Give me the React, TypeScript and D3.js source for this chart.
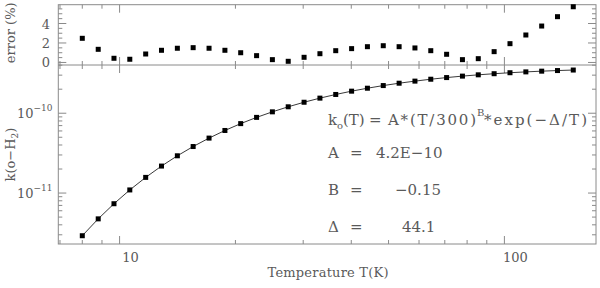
import * as d3 from "d3";

// temperatures (K) of the computed points
const temps = [
  8, 8.8, 9.67, 10.63, 11.69, 12.85, 14.13, 15.53, 17.08, 18.78, 20.64, 22.7,
  24.95, 27.43, 30.16, 33.16, 36.45, 40.08, 44.06, 48.44, 53.26, 58.55, 64.37,
  70.77, 77.8, 85.53, 94.04, 103.4, 113.7, 125.0, 137.4, 151.0,
];

// rate coefficient k(o-H2) in cm^3 s^-1
const rates = [
  2.92e-12, 4.75e-12, 7.35e-12, 1.094e-11, 1.571e-11, 2.178e-11, 2.93e-11,
  3.827e-11, 4.88e-11, 6.08e-11, 7.41e-11, 8.87e-11, 1.041e-10, 1.204e-10,
  1.373e-10, 1.546e-10, 1.718e-10, 1.89e-10, 2.058e-10, 2.221e-10, 2.377e-10,
  2.525e-10, 2.667e-10, 2.797e-10, 2.917e-10, 3.028e-10, 3.127e-10, 3.217e-10,
  3.296e-10, 3.365e-10, 3.425e-10, 3.476e-10,
];

// relative error of the fit (%)
const errors = [
  2.48, 1.35, 0.43, 0.33, 0.87, 1.25, 1.46, 1.52, 1.46, 1.25, 1.0, 0.7, 0.29,
  0.12, 0.53, 0.9, 1.21, 1.42, 1.62, 1.72, 1.62, 1.49, 1.21, 0.84, 0.29, 0.39,
  1.11, 1.93, 2.82, 3.74, 4.7, 5.72,
];

const xMajor = [10, 100];
const xMinor = [7, 8, 9, 20, 30, 40, 50, 60, 70, 80, 90];
const errMajor = [0, 2, 4];
const errMinor = [0.5, 1, 1.5, 2.5, 3, 3.5, 4.5, 5, 5.5];
const kMajor = [1e-11, 1e-10];
const kMinor = [
  3e-12, 4e-12, 5e-12, 6e-12, 7e-12, 8e-12, 9e-12, 2e-11, 3e-11, 4e-11, 5e-11,
  6e-11, 7e-11, 8e-11, 9e-11, 2e-10, 3e-10, 4e-10,
];

const W = 600;
const H = 288;
const L = 58.3;
const R = 596;
const TOP = 4.7;
const MID = 65;
const BOT = 244;
const AX = "#8a8a8a";
const TXT = "#5a5a5a";
const FONT = "DejaVu Serif";

export default function App() {
  const x = d3.scaleLog().domain([6.93, 173]).range([L, R]);
  const yErr = d3.scaleLinear().domain([-0.26, 5.93]).range([MID, TOP]);
  const yK = d3.scaleLog().domain([2.3e-12, 4.02e-10]).range([BOT, MID]);

  const line = d3
    .line<number>()
    .x((_, i) => x(temps[i]))
    .y((d) => yK(d));

  const sq = 5;

  const xTicks = (top: number, bottom: number) => (
    <g stroke={AX} strokeWidth={1}>
      {xMajor.map((v) => (
        <g key={"M" + v}>
          <line x1={x(v)} x2={x(v)} y1={top} y2={top + 8} />
          <line x1={x(v)} x2={x(v)} y1={bottom} y2={bottom - 8} />
        </g>
      ))}
      {xMinor.map((v) => (
        <g key={"m" + v}>
          <line x1={x(v)} x2={x(v)} y1={top} y2={top + 4} />
          <line x1={x(v)} x2={x(v)} y1={bottom} y2={bottom - 4} />
        </g>
      ))}
    </g>
  );

  const yTicks = (major: number[], minor: number[], s: (v: number) => number) => (
    <g stroke={AX} strokeWidth={1}>
      {major.map((v) => (
        <g key={"M" + v}>
          <line x1={L} x2={L + 8} y1={s(v)} y2={s(v)} />
          <line x1={R} x2={R - 8} y1={s(v)} y2={s(v)} />
        </g>
      ))}
      {minor.map((v) => (
        <g key={"m" + v}>
          <line x1={L} x2={L + 4} y1={s(v)} y2={s(v)} />
          <line x1={R} x2={R - 4} y1={s(v)} y2={s(v)} />
        </g>
      ))}
    </g>
  );

  return (
    <div style={{ position: "absolute", left: 0, top: 0 }}>
      <svg width={W} height={H} style={{ display: "block", background: "#fff" }}>
        {/* frames */}
        <rect x={L} y={TOP} width={R - L} height={BOT - TOP} fill="none" stroke={AX} />
        <line x1={L} x2={R} y1={MID} y2={MID} stroke={AX} />

        {xTicks(TOP, MID)}
        {xTicks(MID, BOT)}
        {yTicks(errMajor, errMinor, yErr)}
        {yTicks(kMajor, kMinor, yK)}

        {/* error panel */}
        {errors.map((e, i) => (
          <rect
            key={"e" + i}
            x={x(temps[i]) - sq / 2}
            y={yErr(e) - sq / 2}
            width={sq}
            height={sq}
            fill="#000"
          />
        ))}

        {/* rate panel */}
        <path d={line(rates) || ""} fill="none" stroke="#222" strokeWidth={0.9} />
        {rates.map((k, i) => (
          <rect
            key={"k" + i}
            x={x(temps[i]) - sq / 2}
            y={yK(k) - sq / 2}
            width={sq}
            height={sq}
            fill="#000"
          />
        ))}

        {/* tick labels */}
        <g fontFamily={FONT} fontSize={13} fill={TXT}>
          {errMajor.map((v) => (
            <text key={v} x={50} y={yErr(v) + 5} textAnchor="end">
              {v}
            </text>
          ))}
          {xMajor.map((v) => (
            <text key={v} x={x(v) + 11} y={262} textAnchor="middle">
              {v}
            </text>
          ))}
          {kMajor.map((v) => (
            <text key={v} x={17} y={yK(v) + 5}>
              10
              <tspan dy={-7} fontSize={9}>
                {"\u2212" + Math.round(-Math.log10(v))}
              </tspan>
            </text>
          ))}
        </g>

        {/* axis titles */}
        <g fontFamily={FONT} fontSize={13} fill={TXT}>
          <text x={328} y={277} textAnchor="middle" textLength={121} lengthAdjust="spacing">
            Temperature T(K)
          </text>
          <text transform={`translate(15,${(TOP + MID) / 2 - 2}) rotate(-90)`} textAnchor="middle">
            error (%)
          </text>
          <text transform={`translate(15,${(MID + BOT) / 2}) rotate(-90)`} textAnchor="middle">
            k(o{"\u2212"}H
            <tspan fontSize={9} dy={3}>
              2
            </tspan>
            <tspan dy={-3}>)</tspan>
          </text>
        </g>

        {/* fit formula */}
        <g fontFamily={FONT} fontSize={15} fill={TXT}>
          <text x={328} y={125}>k</text>
          <text x={337} y={129} fontSize={10}>o</text>
          <text x={343} y={125}>(T)</text>
          <text x={369} y={125}>=</text>
          <text x={388} y={125} textLength={88} lengthAdjust="spacing">A*(T/300)</text>
          <text x={477} y={116} fontSize={10}>B</text>
          <text x={484} y={125} textLength={103} lengthAdjust="spacing">
            *exp({"\u2212\u0394"}/T)
          </text>
          <text x={328} y={158}>A</text>
          <text x={350} y={158}>=</text>
          <text x={376} y={158}>4.2E{"\u2212"}10</text>
          <text x={328} y={195}>B</text>
          <text x={350} y={195}>=</text>
          <text x={395} y={195}>{"\u2212"}0.15</text>
          <text x={328} y={232}>{"\u0394"}</text>
          <text x={350} y={232}>=</text>
          <text x={402} y={232}>44.1</text>
        </g>
      </svg>
    </div>
  );
}
